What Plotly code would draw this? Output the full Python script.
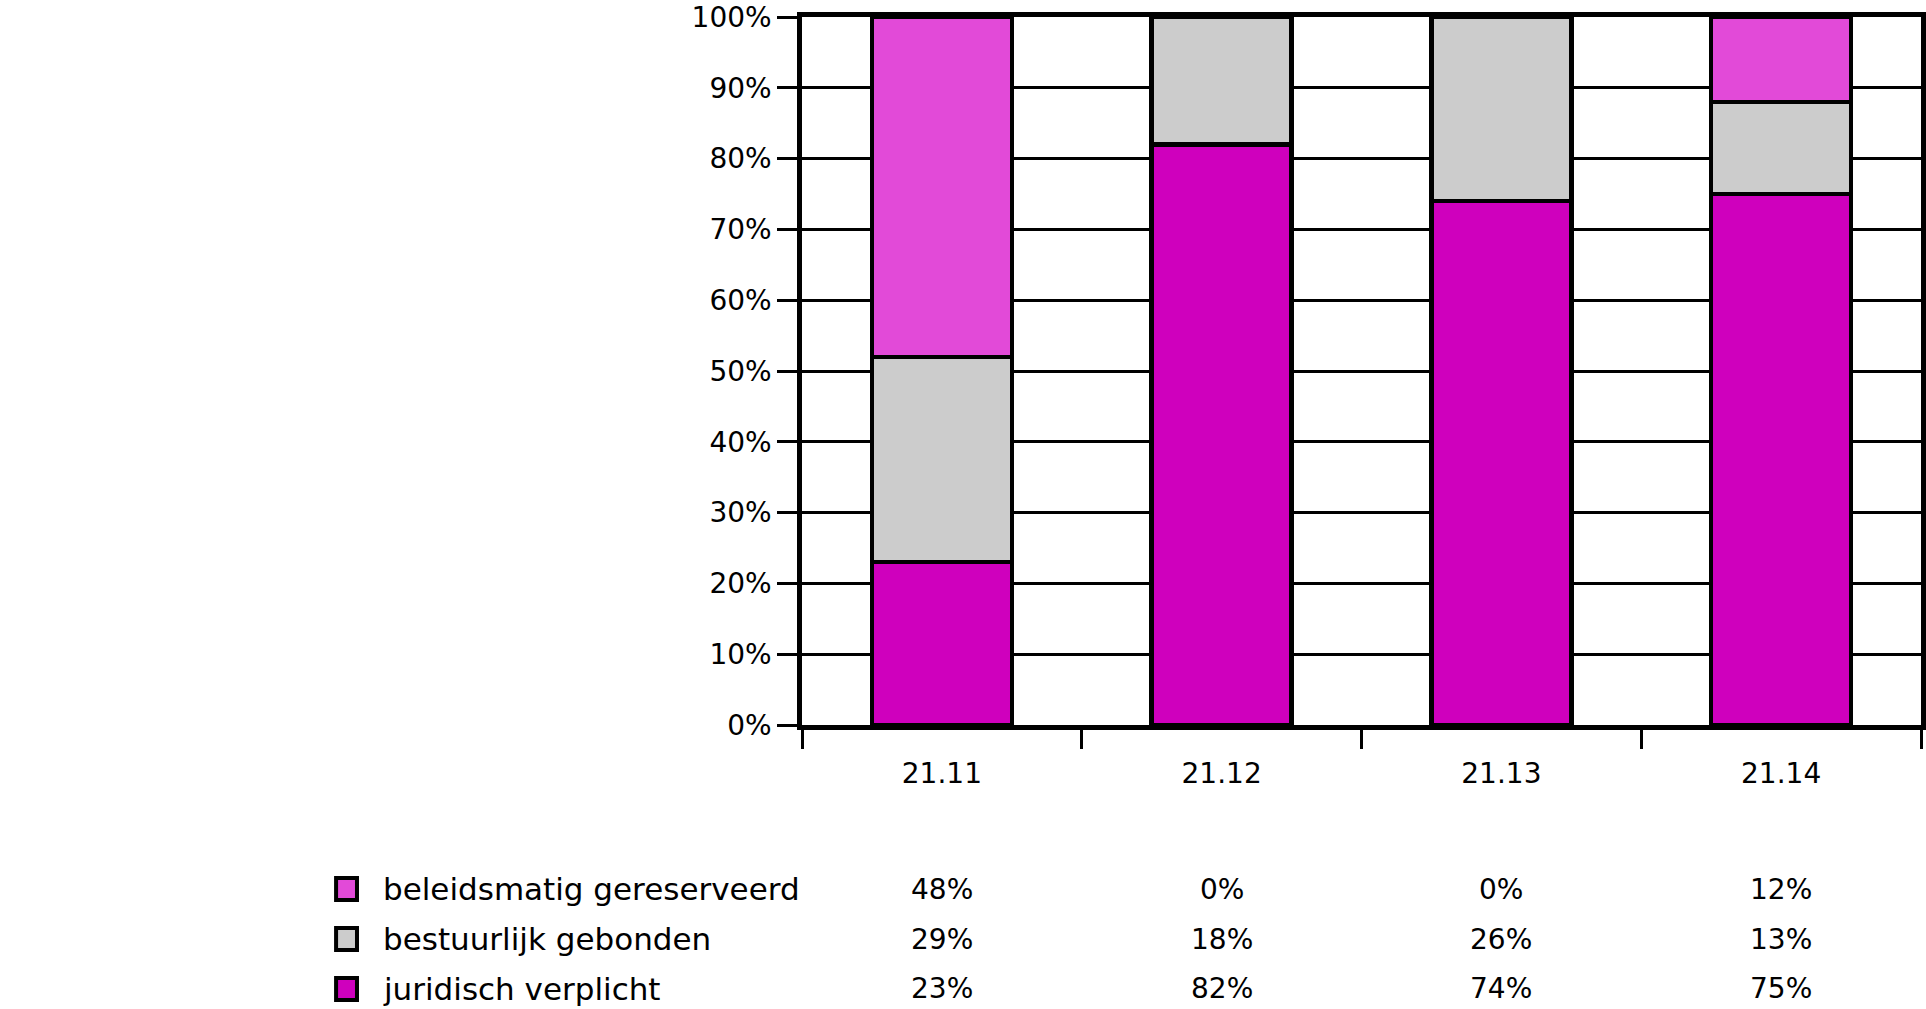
import plotly.graph_objects as go

categories = ["21.11", "21.12", "21.13", "21.14"]
series_names = ["juridisch verplicht", "bestuurlijk gebonden", "beleidsmatig gereserveerd"]
juridisch = [23, 82, 74, 75]
bestuurlijk = [29, 18, 26, 13]
beleidsmatig = [48, 0, 0, 12]
series_values = [juridisch, bestuurlijk, beleidsmatig]
colors = ["#CF00BD", "#CCCCCC", "#E24AD8"]
y_ticks = list(range(0, 101, 10))
y_tick_labels = [f"{v}%" for v in y_ticks]

W, H = 1926, 1009
L, R, T, B = 802, 0, 17, 284
PW, PH = W - L - R, H - T - B
FONT = "DejaVu Sans"

def px_x(p):
    return (p - L) / PW

def px_y(p):
    return (H - B - p) / PH

fig = go.Figure()
for name, vals, col in zip(series_names, series_values, colors):
    fig.add_trace(go.Bar(
        x=categories, y=vals, name=name,
        marker=dict(color=col, line=dict(color="black", width=4.5)),
        showlegend=False,
    ))

# table-like legend below the chart (top row = beleidsmatig)
row_py = [889, 939, 989]
order = [2, 1, 0]
for row, idx in enumerate(order):
    py = row_py[row]
    fig.add_shape(type="rect", xref="paper", yref="paper",
                  x0=px_x(334), x1=px_x(355), y0=px_y(py - 11), y1=px_y(py + 11),
                  fillcolor=colors[idx], line=dict(color="black", width=4))
    fig.add_annotation(xref="paper", yref="paper", x=px_x(379), y=px_y(py),
                       text=series_names[idx], showarrow=False,
                       xanchor="left", yanchor="middle",
                       font=dict(family=FONT, size=31, color="black"))
    for ci, v in enumerate(series_values[idx]):
        fig.add_annotation(xref="x", yref="paper", x=ci, y=px_y(py),
                           text=f"{v}%", showarrow=False,
                           xanchor="center", yanchor="middle",
                           font=dict(family=FONT, size=28, color="black"))

fig.update_layout(
    width=W, height=H,
    margin=dict(l=L, r=R, t=T, b=B, pad=0),
    barmode="stack", bargap=0.5,
    plot_bgcolor="white", paper_bgcolor="white",
    font=dict(family=FONT, size=28, color="black"),
)
fig.update_xaxes(
    type="category", range=[-0.5, len(categories) - 0.5],
    showline=True, linecolor="black", linewidth=4.5, mirror=True,
    ticks="outside", ticklen=19, tickwidth=3, tickcolor="black",
    tickson="boundaries", showgrid=False, tickangle=0,
    ticklabelstandoff=20,
    tickfont=dict(family=FONT, size=28, color="black"),
)
fig.update_yaxes(
    range=[0, 100], tickvals=y_ticks, ticktext=y_tick_labels,
    showline=True, linecolor="black", linewidth=4.5, mirror=True,
    ticks="outside", ticklen=20, tickwidth=3, tickcolor="black",
    showgrid=True, gridcolor="black", gridwidth=3, zeroline=False,
    tickfont=dict(family=FONT, size=28, color="black"),
)

fig.write_html("out.html")
